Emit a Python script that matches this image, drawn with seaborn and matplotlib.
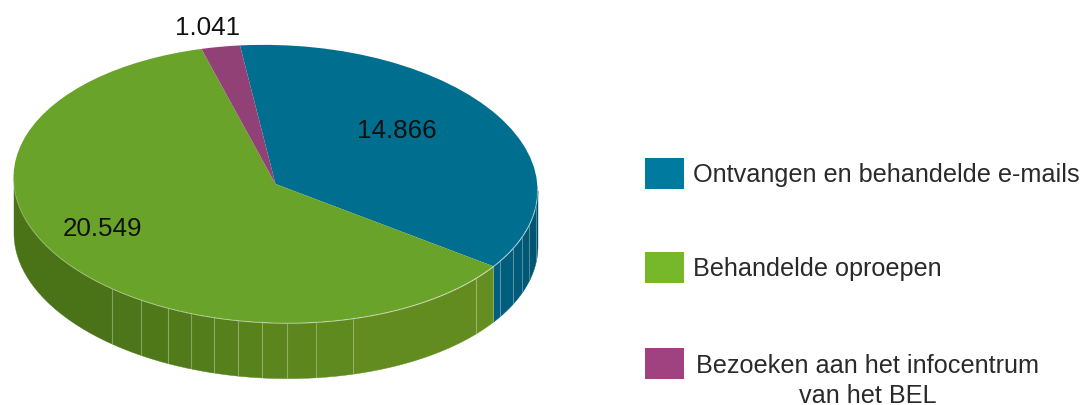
import numpy as np
import seaborn as sns
import matplotlib.pyplot as plt
from matplotlib.patches import Rectangle
from matplotlib.transforms import Affine2D

# Waarden uit de figuur
categories = ["Ontvangen en behandelde e-mails", "Behandelde oproepen",
              "Bezoeken aan het infocentrum\nvan het BEL"]
values = [14866, 20549, 1041]
value_labels = ["14.866", "20.549", "1.041"]

top_colors = ["#006f8f", "#6aa329", "#924177"]
legend_colors = ["#007a9f", "#77b82a", "#a0427f"]

# hoeken (graden) van de lichte lijntjes op de zijkant
green_facets = [-180, -128.5, -121, -114.3, -108.7, -103.5, -98.3, -93, -87.4, -81, -72.9, -40]
blue_facets = [-31, -24.8, -19.5, -14.2, -7, 0]

W, H = 1086, 406
CX, CY, RX, RY = 275.5, 185, 262, 139
DEPTH = 55 / RY
TILT = 0.045

sns.set_theme(style="white")
plt.rcParams["font.family"] = ["Liberation Sans", "DejaVu Sans"]

fig = plt.figure(figsize=(W / 100, H / 100), dpi=100)
ax = fig.add_axes([0, 0, 1, 1])

# de ellips staat een klein beetje scheef
tilted = Affine2D.from_values(1, -TILT, 0, 1, 0, 0) + ax.transData


def warp(a):
    # de taart staat in perspectief: hoeken schuiven een beetje op
    return a + 5.42 + 11.16 * np.sin(np.radians(a + 111.3))


def px(x, y):
    return (x - CX) / RX, (CY - y) / RY


# bovenvlak, eerste taartpunt begint bij 97.8 graden, met de klok mee
wedges, _ = ax.pie(values, startangle=97.8, counterclock=False, colors=top_colors,
                   radius=1, wedgeprops={"linewidth": 0})
for w in wedges:
    w.set_theta1(warp(w.theta1))
    w.set_theta2(warp(w.theta2))
    w.set_zorder(5)
    w.set_transform(tilted)

edge = wedges[0].theta1  # grens blauw/groen

# zijkant in facetten
facets = green_facets + [edge] + blue_facets
n_green = len(green_facets)
side = sns.blend_palette(["#4a7318", "#648f20"], n_green).as_hex() + \
    sns.blend_palette(["#005f7e", "#00536e"], len(blue_facets)).as_hex()
for i in range(len(facets) - 1):
    t = np.radians(np.linspace(facets[i], facets[i + 1], 60))
    ax.fill_between(np.cos(t), np.sin(t) - DEPTH, np.sin(t), color=side[i], linewidth=0.3,
                    zorder=2, transform=tilted)
    if i > 0:
        ax.plot([np.cos(t[0])] * 2, [np.sin(t[0]), np.sin(t[0]) - DEPTH],
                color="white", alpha=0.3, lw=0.8, zorder=3, transform=tilted)

# lichte rand tussen boven- en zijvlak
t = np.radians(np.linspace(-180, 0, 200))
ax.plot(np.cos(t), np.sin(t), color="white", alpha=0.25, lw=0.8, zorder=6, transform=tilted)

label_pos = [(397, 131.5), (103, 228.5), (208, 27.5)]
for txt, (x, y) in zip(value_labels, label_pos):
    xd, yd = px(x, y)
    ax.text(xd, yd, txt, fontsize=18.7, color="#111111", ha="center", va="center", zorder=7)

ax.set_aspect("auto")
ax.set_xlim(px(0, 0)[0], px(W, 0)[0])
ax.set_ylim(px(0, H)[1], px(0, 0)[1])
ax.axis("off")

# legenda
legend_y = [159, 253, 349]
text_x = [693, 693, 868]
text_y = [175, 269, 381]
for i, cat in enumerate(categories):
    fig.add_artist(Rectangle((645 / W, 1 - (legend_y[i] + 31) / H), 39 / W, 31 / H,
                             transform=fig.transFigure, color=legend_colors[i], lw=0))
    fig.text(text_x[i] / W, 1 - text_y[i] / H, cat, fontsize=18.2, color="#2a2a2a",
             ha="left" if i < 2 else "center", va="center", multialignment="center",
             linespacing=1.3)

fig.savefig("out.png", dpi=100)
